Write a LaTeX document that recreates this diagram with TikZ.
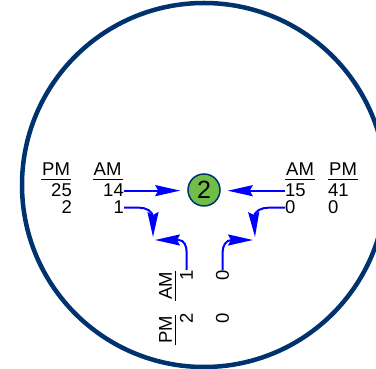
\documentclass[tikz,border=0pt]{standalone}
\usepackage{fontspec}
\setmainfont{Liberation Sans}
\usetikzlibrary{arrows.meta, positioning, calc}
\definecolor{ringblue}{RGB}{0,51,110}
\definecolor{dotgreen}{RGB}{112,189,72}

\begin{document}
\begin{tikzpicture}[x=1pt, y=1pt,
			ring/.style={draw=ringblue, line width=4.5pt},
			dot/.style={circle, draw=ringblue, fill=dotgreen, line width=1.5pt,
				minimum size=32pt, inner sep=0pt, font=\fontsize{25}{25}\selectfont},
			lbl/.style={inner sep=0pt, font=\fontsize{18.5}{18.5}\selectfont},
			hdr/.style={lbl, inner xsep=1pt, inner ysep=3pt},
			rule/.style={line width=1.3pt},
			flow/.style={draw=blue, line width=2pt,
				-{Stealth[length=25pt, width=11pt, inset=3pt]}},
			rot/.style={rotate=90}
			]
			\useasboundingbox (0,0) rectangle (376,369);
			\draw[ring] (204,184) circle[radius=182];
			
			\node[dot] (two) at (204,179) {2};
			
			% left approach
			\node[hdr, anchor=base west] (pmL) at (41,193) {PM};
			\node[hdr, anchor=base west] (amL) at (92.5,193) {AM};
			\node[lbl, anchor=base east] (pmL25) at (72,172) {25};
			\node[lbl, anchor=base east] (pmL2) at (72,155) {2};
			\node[lbl, anchor=base east] (amL14) at (124,172) {14};
			\node[lbl, anchor=base east] (amL1) at (124,155) {1};
			
			% right approach
			\node[hdr, anchor=base west] (amR) at (285,193) {AM};
			\node[hdr, anchor=base west] (pmR) at (328,193) {PM};
			\node[lbl, anchor=base west] (amR15) at (285,172) {15};
			\node[lbl, anchor=base west] (amR0) at (285,155) {0};
			\node[lbl, anchor=base west] (pmR41) at (328,172) {41};
			\node[lbl, anchor=base west] (pmR0) at (328,155) {0};
			
			% bottom approach
			\node[hdr, rot, anchor=base] (amB) at (172,83) {AM};
			\node[hdr, rot, anchor=base] (pmB) at (172,39) {PM};
			\node[lbl, rot, anchor=base east] (amB1) at (193,99) {1};
			\node[lbl, rot, anchor=base east] (amB0) at (229,99) {0};
			\node[lbl, rot, anchor=base east] (pmB2) at (193,56) {2};
			\node[lbl, rot, anchor=base east] (pmB0) at (229,56) {0};
			
			\foreach \h in {pmL, amL, amR, pmR, amB, pmB}
				\draw[rule] (\h.south west) -- (\h.south east);
			
			\coordinate (tipLd) at (153,132);
			\coordinate (tipLl) at (155,129);
			\coordinate (tipRd) at (255,132);
			\coordinate (tipRl) at (253,129);
			
			\draw[flow, shorten >=7pt] (amL14.east) -- (amL14.east -| two.west);
			\draw[flow, shorten >=7pt] (amR15.west) -- (amR15.west -| two.east);
			
			\draw[flow] (amL1.east) -- ++(15,0) to[out=0, in=90] ++(14,-10) -- (tipLd);
			\draw[flow] (amB1.east) -- ++(0,18) to[out=90, in=0] ++(-8,12) -- (tipLl);
			\draw[flow] (amR0.west) -- ++(-16,0) to[out=180, in=90] ++(-15,-10) -- (tipRd);
			\draw[flow] (amB0.east) -- ++(0,18) to[out=90, in=180] ++(9,12) -- (tipRl);
		\end{tikzpicture}
\end{document}
